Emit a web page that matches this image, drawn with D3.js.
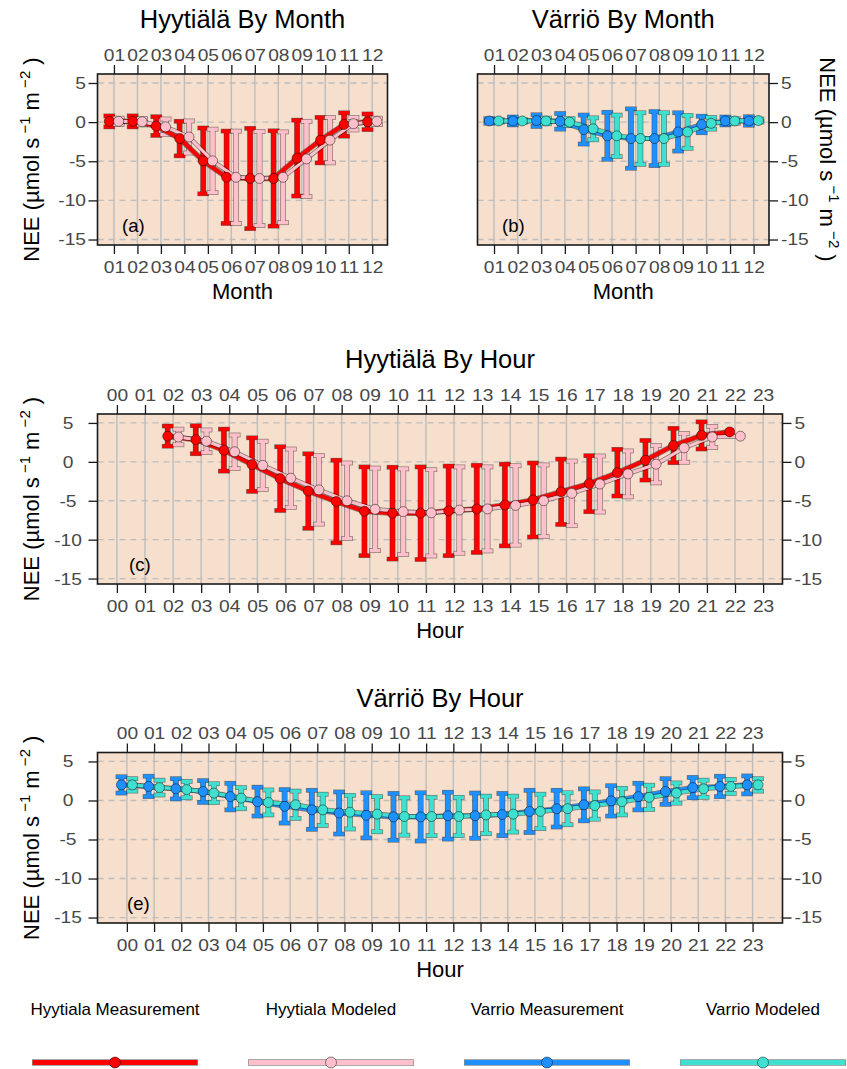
<!DOCTYPE html>
<html>
<head>
<meta charset="utf-8">
<script src="https://cdn.jsdelivr.net/npm/d3@7"></script>
<style>
  body { margin: 0; background: #fff; }
  svg text { font-family: "Liberation Sans", Arial, Helvetica, sans-serif; }
</style>
</head>
<body>
<script>
const W = 847, H = 1069;

// ---- data ----
const months = d3.range(1, 13);
const monthLabels = months.map(m => String(m).padStart(2, "0"));
const hours = d3.range(0, 24);
const hourLabels = hours.map(h => String(h).padStart(2, "0"));
const hyyHours = d3.range(2, 23);
const yTicks = [5, 0, -5, -10, -15];

const hyyMonthMeas   = [0.1, 0.1, -0.5, -2.1, -4.95, -7.05, -7.2, -7.2, -4.6, -2.3, -0.3, 0.05];
const hyyMonthMeasSd = [0.7, 0.7, 1.2, 2.2, 4.2, 5.9, 6.4, 6.1, 4.85, 2.9, 1.5, 1.0];
const hyyMonthMod    = [0.1, 0.05, -0.6, -1.9, -4.95, -7.05, -7.2, -7.05, -4.7, -2.3, -0.2, 0.1];
const hyyMonthModSd  = [0.4, 0.4, 1.0, 2.05, 4.05, 5.9, 6.0, 5.8, 4.8, 2.9, 0.8, 0.4];

const varMonthMeas   = [0.15, 0.15, 0.2, 0.1, -0.95, -1.75, -2.1, -2.1, -1.25, -0.3, 0.15, 0.15];
const varMonthMeasSd = [0.3, 0.5, 0.75, 1.0, 1.85, 3.0, 3.8, 3.45, 2.45, 1.05, 0.5, 0.55];
const varMonthMod    = [0.15, 0.15, 0.15, 0.0, -0.85, -1.75, -2.1, -2.1, -1.25, -0.15, 0.15, 0.2];
const varMonthModSd  = [0.15, 0.15, 0.35, 0.45, 1.4, 2.65, 3.3, 3.3, 2.1, 0.75, 0.3, 0.2];

const hyyHourMeas   = [3.3, 2.85, 1.5, -0.35, -2.15, -3.75, -5.1, -6.35, -6.6, -6.6, -6.3, -6.05, -5.55, -4.9, -3.85, -2.8, -1.4, 0.2, 2.1, 3.4, 3.85];
const hyyHourMeasSd = [1.3, 1.8, 2.7, 3.45, 4.1, 4.8, 5.3, 5.7, 5.9, 5.95, 5.75, 5.6, 5.25, 4.75, 4.2, 3.6, 3.0, 2.55, 2.2, 1.75, null];
const hyyHourMod    = [3.2, 2.65, 1.3, -0.45, -2.1, -3.6, -5.0, -6.1, -6.4, -6.55, -6.2, -6.05, -5.6, -5.0, -4.05, -2.85, -1.55, -0.3, 1.8, 3.2, 3.3];
const hyyHourModSd  = [1.0, 1.45, 2.15, 3.1, 3.75, 4.4, 4.85, 5.3, 5.5, 5.55, 5.55, 5.4, 5.1, 4.6, 4.15, 3.6, 2.95, 2.4, 1.85, 1.35, null];

const varHourMeas   = [2.0, 1.8, 1.5, 1.15, 0.5, -0.15, -0.75, -1.2, -1.6, -1.9, -2.1, -2.1, -1.95, -1.95, -1.8, -1.4, -1.05, -0.55, -0.05, 0.5, 1.15, 1.65, 1.8, 2.0];
const varHourMeasSd = [1.05, 1.3, 1.3, 1.4, 1.7, 1.85, 2.15, 2.5, 2.7, 2.9, 3.0, 3.1, 3.0, 2.9, 2.7, 2.7, 2.35, 2.05, 1.95, 1.7, 1.65, 1.3, 1.3, 1.15];
const varHourMod    = [2.0, 1.65, 1.4, 0.95, 0.3, -0.25, -0.55, -1.2, -1.5, -1.75, -2.05, -2.05, -2.05, -1.85, -1.75, -1.4, -1.05, -0.65, -0.15, 0.4, 0.95, 1.5, 1.8, 2.0];
const varHourModSd  = [0.8, 0.95, 1.05, 1.2, 1.35, 1.6, 1.75, 2.0, 2.15, 2.25, 2.4, 2.45, 2.45, 2.4, 2.3, 2.2, 2.05, 1.75, 1.7, 1.55, 1.3, 1.1, 0.9, 0.8];

const legendNames = ["Hyytiala Measurement", "Hyytiala Modeled", "Varrio Measurement", "Varrio Modeled"];
const legendColors = ["#ff0000", "#ffc0cb", "#1e90ff", "#40e0d0"];

const bg = "#f6dfcc";
const edge = "rgba(0,0,0,0.45)";
const gridCol = "#bdbdbd";
const tickCol = "#474747";
const sx = 1.13; // tick labels in the original are a little wider than Arial

const svg = d3.select("body").append("svg")
    .attr("width", W).attr("height", H);

function yTitle(x, y, rot) {
    const t = svg.append("text")
        .attr("transform", `translate(${x},${y}) rotate(${rot})`)
        .attr("text-anchor", "middle")
        .attr("font-size", 22);
    t.append("tspan").text("NEE (\u00b5mol s");
    t.append("tspan").attr("dy", -9).attr("font-size", 15).text(" \u22121");
    t.append("tspan").attr("dy", 9).text(" m");
    t.append("tspan").attr("dy", -9).attr("font-size", 15).text(" \u22122");
    t.append("tspan").attr("dy", 9).text(" )");
}

function drawPanel(p) {
    const g = svg.append("g");
    const x = d3.scaleLinear().domain(p.xDomain).range([p.x0, p.x1]);
    const y = d3.scaleLinear().domain([-15.7, 6.15]).range([p.y1, p.y0]);

    g.append("rect")
        .attr("x", p.x0).attr("y", p.y0)
        .attr("width", p.x1 - p.x0).attr("height", p.y1 - p.y0)
        .attr("fill", bg);

    g.selectAll(".vg").data(p.ticks).join("line")
        .attr("x1", d => x(d)).attr("x2", d => x(d))
        .attr("y1", p.y0).attr("y2", p.y1)
        .attr("stroke", gridCol).attr("stroke-width", 1.4);

    g.selectAll(".hg").data(yTicks).join("line")
        .attr("x1", p.x0).attr("x2", p.x1)
        .attr("y1", d => y(d)).attr("y2", d => y(d))
        .attr("stroke", gridCol).attr("stroke-width", 1.3)
        .attr("stroke-dasharray", "6,5");

    const series = p.series.map(s => ({
        ...s,
        pts: s.x.map((v, i) => ({ px: x(v + s.dx), m: s.mean[i], sd: s.sd[i] }))
    }));

    // error bars: outline pass then fill pass
    series.forEach(s => {
        const rects = [];
        s.pts.filter(d => d.sd != null).forEach(d => {
            const yh = y(d.m + d.sd), yl = y(d.m - d.sd);
            rects.push([d.px - 2.3, yh, 4.6, yl - yh]);
            rects.push([d.px - 5.2, yh - 1.7, 10.4, 3.4]);
            rects.push([d.px - 5.2, yl - 1.7, 10.4, 3.4]);
        });
        const bg2 = g.append("g");
        ["out", "in"].forEach(pass => {
            bg2.append("g").selectAll("rect").data(rects).join("rect")
                .attr("x", r => r[0]).attr("y", r => r[1])
                .attr("width", r => r[2]).attr("height", r => r[3])
                .attr("fill", s.color)
                .attr("stroke", pass === "out" ? edge : "none")
                .attr("stroke-width", 1.4);
        });
    });

    const line = d3.line().x(d => d.px).y(d => y(d.m));
    series.forEach(s => {
        g.append("path").attr("d", line(s.pts))
            .attr("fill", "none").attr("stroke", edge)
            .attr("stroke-width", s.lw + 1.6).attr("stroke-linejoin", "round");
        g.append("path").attr("d", line(s.pts))
            .attr("fill", "none").attr("stroke", s.color)
            .attr("stroke-width", s.lw).attr("stroke-linejoin", "round");
    });

    series.forEach(s => {
        g.append("g").selectAll("circle").data(s.pts).join("circle")
            .attr("cx", d => d.px).attr("cy", d => y(d.m))
            .attr("r", 5)
            .attr("fill", s.color).attr("stroke", edge).attr("stroke-width", 1);
    });

    g.append("rect")
        .attr("x", p.x0).attr("y", p.y0)
        .attr("width", p.x1 - p.x0).attr("height", p.y1 - p.y0)
        .attr("fill", "none").attr("stroke", "#1a1a1a").attr("stroke-width", 1.6);

    const fmt = (d, i) => p.labels[i];
    const styleAxis = a => {
        a.select(".domain").remove();
        a.selectAll(".tick line").attr("stroke", "#1a1a1a").attr("stroke-width", 1.3);
        a.selectAll(".tick text").attr("fill", tickCol).attr("font-size", 17)
            .attr("font-family", "'Liberation Sans', Arial, Helvetica, sans-serif")
            .each(function () {
                const t = d3.select(this);
                const tx = +t.attr("x") || 0;
                t.attr("x", tx / sx).attr("transform", `scale(${sx},1)`);
            });
    };
    g.append("g").attr("transform", `translate(0,${p.y1})`)
        .call(d3.axisBottom(x).tickValues(p.ticks).tickFormat(fmt).tickSize(9).tickPadding(7))
        .call(styleAxis);
    g.append("g").attr("transform", `translate(0,${p.y0})`)
        .call(d3.axisTop(x).tickValues(p.ticks).tickFormat(fmt).tickSize(9).tickPadding(4.5))
        .call(styleAxis);
    if (p.left) {
        const a = g.append("g").attr("transform", `translate(${p.x0},0)`)
            .call(d3.axisLeft(y).tickValues(yTicks).tickFormat(d => String(d)).tickSize(9).tickPadding(2.5))
            .call(styleAxis);
        if (p.left === "middle") {
            a.selectAll(".tick text").attr("text-anchor", "middle").attr("x", -29.5 / sx);
        }
    }
    if (p.right) {
        g.append("g").attr("transform", `translate(${p.x1},0)`)
            .call(d3.axisRight(y).tickValues(yTicks).tickFormat(d => String(d)).tickSize(9).tickPadding(3))
            .call(styleAxis);
    }

    const cx = (p.x0 + p.x1) / 2;
    g.append("text").attr("x", cx).attr("y", p.y0 - 46)
        .attr("text-anchor", "middle").attr("font-size", 25.5).text(p.title);
    g.append("text").attr("x", cx).attr("y", p.y1 + 54)
        .attr("text-anchor", "middle").attr("font-size", 22).text(p.xTitle);
    g.append("text").attr("x", p.x0 + p.tagDx).attr("y", p.y1 - 13)
        .attr("font-size", 18.5).text(p.tag);

    const cy = (p.y0 + p.y1) / 2;
    if (p.yTitle === "left") yTitle(38.5, cy, -90);
    if (p.yTitle === "right") yTitle(820, cy, 90);
}

drawPanel({
    x0: 97.5, x1: 387.5, y0: 74, y1: 245, xDomain: [0.3, 12.65],
    ticks: months, labels: monthLabels, left: "end", right: false, yTitle: "left",
    title: "Hyytiälä By Month", xTitle: "Month", tag: "(a)", tagDx: 24.5,
    series: [
        { x: months, mean: hyyMonthMeas, sd: hyyMonthMeasSd, color: legendColors[0], dx: -0.2, lw: 4 },
        { x: months, mean: hyyMonthMod, sd: hyyMonthModSd, color: legendColors[1], dx: 0.2, lw: 3 }
    ]
});

drawPanel({
    x0: 477.5, x1: 769, y0: 74, y1: 245, xDomain: [0.3, 12.65],
    ticks: months, labels: monthLabels, left: false, right: true, yTitle: "right",
    title: "Värriö By Month", xTitle: "Month", tag: "(b)", tagDx: 24.5,
    series: [
        { x: months, mean: varMonthMeas, sd: varMonthMeasSd, color: legendColors[2], dx: -0.2, lw: 3.5 },
        { x: months, mean: varMonthMod, sd: varMonthModSd, color: legendColors[3], dx: 0.2, lw: 3.5 }
    ]
});

drawPanel({
    x0: 97.5, x1: 782.5, y0: 414, y1: 584, xDomain: [-0.69, 23.69],
    ticks: hours, labels: hourLabels, left: "middle", right: true, yTitle: "left",
    title: "Hyytiälä By Hour", xTitle: "Hour", tag: "(c)", tagDx: 31.5,
    series: [
        { x: hyyHours, mean: hyyHourMeas, sd: hyyHourMeasSd, color: legendColors[0], dx: -0.19, lw: 4 },
        { x: hyyHours, mean: hyyHourMod, sd: hyyHourModSd, color: legendColors[1], dx: 0.19, lw: 3 }
    ]
});

drawPanel({
    x0: 97.5, x1: 782.5, y0: 752.5, y1: 923, xDomain: [-1.08, 24.1],
    ticks: hours, labels: hourLabels, left: "middle", right: true, yTitle: "left",
    title: "Värriö By Hour", xTitle: "Hour", tag: "(e)", tagDx: 29.5,
    series: [
        { x: hours, mean: varHourMeas, sd: varHourMeasSd, color: legendColors[2], dx: -0.2, lw: 3.5 },
        { x: hours, mean: varHourMod, sd: varHourModSd, color: legendColors[3], dx: 0.2, lw: 3.5 }
    ]
});

// legend
const lx = d3.scaleBand().domain(legendNames).range([7, 871]);
const lg = svg.append("g");
legendNames.forEach((name, i) => {
    const c = lx(name) + lx.bandwidth() / 2;
    lg.append("text").attr("x", c).attr("y", 1015)
        .attr("text-anchor", "middle").attr("font-size", 17).text(name);
    lg.append("line").attr("x1", c - 83).attr("x2", c + 83)
        .attr("y1", 1062.5).attr("y2", 1062.5)
        .attr("stroke", edge).attr("stroke-width", 6.5);
    lg.append("line").attr("x1", c - 82.3).attr("x2", c + 82.3)
        .attr("y1", 1062.5).attr("y2", 1062.5)
        .attr("stroke", legendColors[i]).attr("stroke-width", 4.8);
    lg.append("circle").attr("cx", c).attr("cy", 1062.5).attr("r", 5.5)
        .attr("fill", legendColors[i]).attr("stroke", edge).attr("stroke-width", 1);
});
</script>
</body>
</html>
